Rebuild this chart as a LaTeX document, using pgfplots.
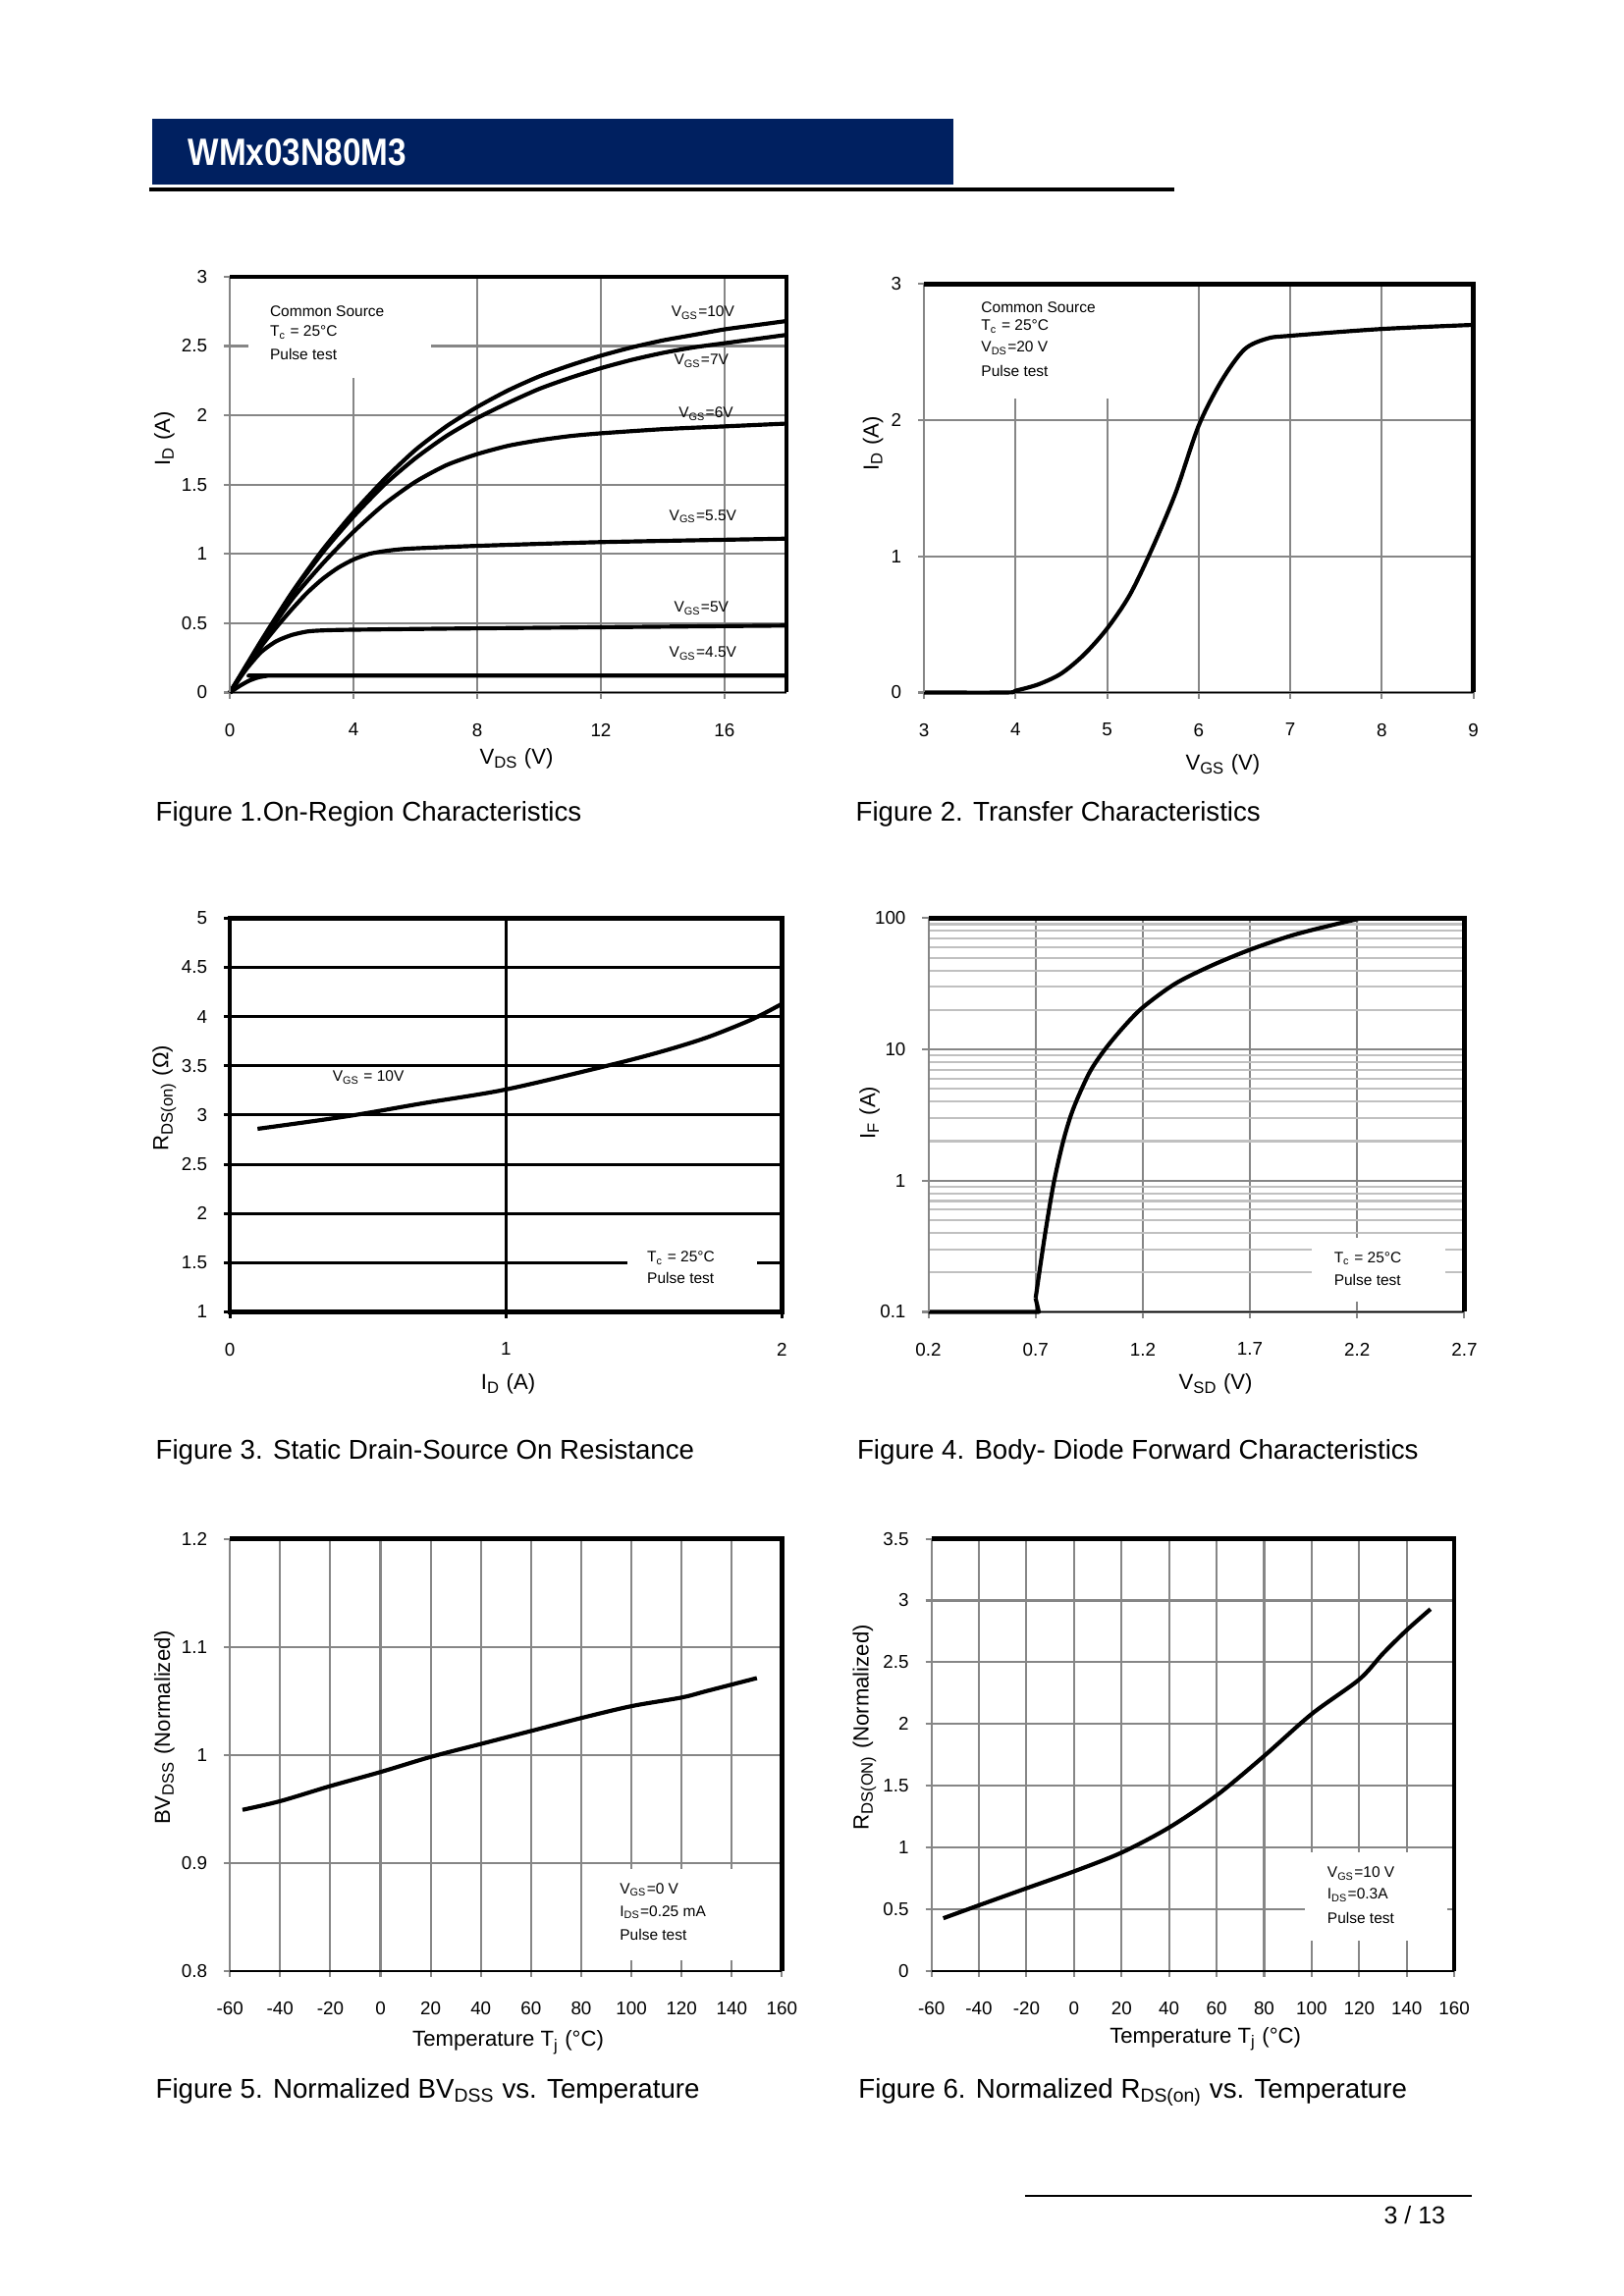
\documentclass[border=0pt]{standalone}
\usepackage{pgfplots}
\pgfplotsset{compat=1.18}
\usepackage{fontspec}
\setmainfont{Liberation Sans}
\newfontfamily\hdrfont[FakeStretch=0.86]{Liberation Sans}
\definecolor{navy}{RGB}{0,32,96}
\definecolor{gridg}{RGB}{134,134,134}
\definecolor{minorg}{RGB}{192,192,192}
\newcommand\fa{\fontsize{5.6}{6.6}\selectfont}
\newcommand\fl{\fontsize{8}{9.6}\selectfont}
\newcommand\fc{\fontsize{10}{12}\selectfont}
\newcommand\ft{\fontsize{6.8}{8}\selectfont}
\newcommand\frameA{%
  \draw[gridg, line width=0.75bp] (rel axis cs:0,0) -- (rel axis cs:0,1);
  \draw[black, line width=0.7bp] (rel axis cs:0,0) -- (rel axis cs:1,0);
  \draw[black, line width=1.7bp, line join=miter] (rel axis cs:0,1) -- (rel axis cs:1,1) -- (rel axis cs:1,0);}
\pgfplotsset{
 ds/.style={scale only axis, anchor=south west, clip=false,
  axis line style={draw=none},
  grid=major, major grid style={gridg, line width=0.75bp},
  tick align=outside, xtick pos=bottom, ytick pos=left,
  major tick length=2.2bp, minor tick length=0pt,
  tick style={gridg, line width=0.75bp},
  ticklabel style={font=\ft},
  xticklabel style={yshift=-5.6bp},
  yticklabel style={xshift=-2.6bp},
  label style={font=\fl},
  /pgf/number format/assume math mode=true,
 },
 crv/.style={black, line width=1.5bp, no markers, line join=round, solid},
}
\begin{document}
\begin{tikzpicture}
\fill[white] (0,0) rectangle (595.44bp,842.04bp);
% header
\fill[navy] (55.8bp,774.2bp) rectangle (349.6bp,798.5bp);
\node[anchor=west, text=white, inner sep=0, font=\hdrfont\fontsize{14}{16}\selectfont\bfseries] at (68.8bp,786.2bp) {WMx03N80M3};
\draw[black, line width=1.2bp] (54.7bp,772.6bp) -- (430.6bp,772.6bp);
% footer
\draw[black, line width=0.6bp] (375.8bp,36.7bp) -- (539.6bp,36.7bp);
\node[font=\fontsize{9}{11}\selectfont, inner sep=0] at (518.7bp,29.7bp) {3 / 13};

% ---------- Figure 1 ----------
\begin{axis}[ds, at={(84.31bp,588.06bp)}, width=204.0bp, height=152.5bp,
  xmin=0, xmax=18, ymin=0, ymax=3,
  xtick={0,4,8,12,16}, ytick={0,0.5,1,1.5,2,2.5,3},
  yticklabels={0,0.5,1,1.5,2,2.5,3},
  xlabel={V\textsubscript{DS} (V)}, ylabel={I\textsubscript{D} (A)},
  xlabel style={at={(axis description cs:0.515,-0.158)}, anchor=center},
  ylabel style={at={(axis description cs:-0.118,0.61)}, anchor=center}]
\fill[white] (axis cs:0.6,2.27) rectangle (axis cs:6.5,2.985);
\addplot[crv, smooth, tension=0.4] coordinates {(0,0)(1,0.37)(2,0.72)(3,1.03)(4,1.30)(5,1.54)(6,1.75)(7,1.92)(8,2.06)(9,2.18)(10,2.28)(11,2.36)(12,2.43)(13,2.49)(14,2.54)(15,2.58)(16,2.62)(17,2.65)(18,2.68)};
\addplot[crv, smooth, tension=0.4] coordinates {(0,0)(1,0.36)(2,0.71)(3,1.01)(4,1.27)(5,1.50)(6,1.69)(7,1.85)(8,1.98)(9,2.09)(10,2.19)(11,2.27)(12,2.34)(13,2.40)(14,2.45)(15,2.49)(16,2.52)(17,2.55)(18,2.58)};
\addplot[crv, smooth, tension=0.4] coordinates {(0,0)(1,0.35)(2,0.67)(3,0.93)(4,1.16)(5,1.36)(6,1.52)(7,1.64)(8,1.72)(9,1.78)(10,1.82)(11,1.85)(12,1.87)(14,1.90)(16,1.92)(18,1.94)};
\addplot[crv, smooth, tension=0.4] coordinates {(0,0)(0.5,0.17)(1,0.33)(1.5,0.47)(2,0.60)(2.5,0.72)(3,0.82)(3.5,0.90)(4,0.96)(4.5,1.00)(5,1.02)(5.5,1.033)(6,1.04)(8,1.058)(12,1.085)(18,1.11)};
\addplot[crv, smooth, tension=0.4] coordinates {(0,0)(0.5,0.16)(1,0.29)(1.5,0.37)(2,0.415)(2.5,0.44)(3,0.448)(4,0.453)(8,0.463)(18,0.483)};
\addplot[crv, smooth, tension=0.4] coordinates {(0,0)(0.3,0.045)(0.6,0.083)(0.9,0.108)(1.2,0.12)(1.5,0.122)(18,0.122)};
\frameA
\node[font=\fa, anchor=west, inner sep=0] at (axis cs:1.28,2.75) {Common Source};
\node[font=\fa, anchor=west, inner sep=0] at (axis cs:1.28,2.60) {T\textsubscript{c} = 25°C};
\node[font=\fa, anchor=west, inner sep=0] at (axis cs:1.28,2.44) {Pulse test};
\node[font=\fa, inner sep=0] at (axis cs:15.3,2.74) {V\textsubscript{GS}=10V};
\node[font=\fa, inner sep=0] at (axis cs:15.25,2.39) {V\textsubscript{GS}=7V};
\node[font=\fa, inner sep=0] at (axis cs:15.4,2.01) {V\textsubscript{GS}=6V};
\node[font=\fa, inner sep=0] at (axis cs:15.3,1.27) {V\textsubscript{GS}=5.5V};
\node[font=\fa, inner sep=0] at (axis cs:15.25,0.61) {V\textsubscript{GS}=5V};
\node[font=\fa, inner sep=0] at (axis cs:15.3,0.28) {V\textsubscript{GS}=4.5V};
\end{axis}
\node[font=\fc, anchor=mid west, inner sep=0] at (56.9bp,543.6bp) {Figure 1.On-Region Characteristics};

% ---------- Figure 2 ----------
\begin{axis}[ds, at={(338.8bp,588.06bp)}, width=201.4bp, height=149.8bp,
  xmin=3, xmax=9, ymin=0, ymax=3,
  xtick={3,4,5,6,7,8,9}, ytick={0,1,2,3},
  xlabel={V\textsubscript{GS} (V)}, ylabel={I\textsubscript{D} (A)},
  xlabel style={at={(axis description cs:0.544,-0.176)}, anchor=center},
  ylabel style={at={(axis description cs:-0.093,0.61)}, anchor=center}]
\fill[white] (axis cs:3.05,2.16) rectangle (axis cs:5.7,2.985);
\addplot[crv, smooth, tension=0.5] coordinates {(3,0)(3.9,0)(4,0.013)(4.25,0.06)(4.5,0.14)(4.75,0.28)(5,0.47)(5.25,0.72)(5.5,1.07)(5.75,1.47)(6,1.96)(6.25,2.29)(6.5,2.52)(6.75,2.60)(7,2.62)(8,2.67)(9,2.70)};
\frameA
\node[font=\fa, anchor=west, inner sep=0] at (axis cs:3.62,2.83) {Common Source};
\node[font=\fa, anchor=west, inner sep=0] at (axis cs:3.62,2.69) {T\textsubscript{c} = 25°C};
\node[font=\fa, anchor=west, inner sep=0] at (axis cs:3.62,2.53) {V\textsubscript{DS}=20 V};
\node[font=\fa, anchor=west, inner sep=0] at (axis cs:3.62,2.36) {Pulse test};
\end{axis}
\node[font=\fc, anchor=mid west, inner sep=0] at (313.6bp,543.6bp) {Figure 2. Transfer Characteristics};

% ---------- Figure 3 ----------
\begin{axis}[ds, at={(84.31bp,360.9bp)}, width=202.4bp, height=144.4bp,
  xmin=0, xmax=2, ymin=1, ymax=5,
  xtick={0,1,2}, ytick={1,1.5,2,2.5,3,3.5,4,4.5,5},
  yticklabels={1,1.5,2,2.5,3,3.5,4,4.5,5},
  major grid style={black, line width=1.1bp}, tick style={black, line width=1.1bp},
  xlabel={I\textsubscript{D} (A)}, ylabel={R\textsubscript{DS(on)} (Ω)},
  xlabel style={at={(axis description cs:0.504,-0.182)}, anchor=center},
  ylabel style={at={(axis description cs:-0.119,0.543)}, anchor=center}]
\fill[white] (axis cs:1.44,1.05) rectangle (axis cs:1.91,1.72);
\addplot[crv, smooth, tension=0.5] coordinates {(0.1,2.86)(0.43,2.99)(0.7,3.12)(1.0,3.26)(1.38,3.51)(1.57,3.65)(1.73,3.79)(1.89,3.97)(2.0,4.13)};
\draw[black, line width=1.6bp, line join=miter] (rel axis cs:0,0) rectangle (rel axis cs:1,1);
\node[font=\fa, anchor=west, inner sep=0] at (axis cs:0.37,3.38) {V\textsubscript{GS} = 10V};
\node[font=\fa, anchor=west, inner sep=0] at (axis cs:1.51,1.55) {T\textsubscript{c} = 25°C};
\node[font=\fa, anchor=west, inner sep=0] at (axis cs:1.51,1.34) {Pulse test};
\end{axis}
\node[font=\fc, anchor=mid west, inner sep=0] at (56.9bp,309.4bp) {Figure 3. Static Drain-Source On Resistance};

% ---------- Figure 4 ----------
\begin{axis}[ds, at={(340.4bp,360.9bp)}, width=196.5bp, height=144.4bp,
  xmin=0.2, xmax=2.7, ymode=log, ymin=0.1, ymax=100,
  xtick={0.2,0.7,1.2,1.7,2.2,2.7}, xticklabels={0.2,0.7,1.2,1.7,2.2,2.7},
  ytick={0.1,1,10,100}, yticklabels={0.1,1,10,100},
  yminorgrids=true, minor grid style={minorg, line width=0.75bp},
  xlabel={V\textsubscript{SD} (V)}, ylabel={I\textsubscript{F} (A)},
  xlabel style={at={(axis description cs:0.536,-0.182)}, anchor=center},
  ylabel style={at={(axis description cs:-0.11,0.506)}, anchor=center}]
\fill[white] (axis cs:1.99,0.12) rectangle (axis cs:2.61,0.37);
\addplot[crv, sharp plot] coordinates {(0.2,0.1)(0.715,0.1)(0.70,0.127)};
\addplot[crv, smooth, tension=0.5] coordinates {(0.700,0.127)(0.742,0.372)(0.784,0.946)(0.83,2.03)(0.876,3.54)(0.95,6.6)(1.022,9.93)(1.11,14.8)(1.2,20.9)(1.35,31.6)(1.516,43.2)(1.7,57.5)(1.898,74.1)(2.094,89.5)(2.22,100)};
\frameA
\node[font=\fa, anchor=west, inner sep=0] at (axis cs:2.09,0.255) {T\textsubscript{c} = 25°C};
\node[font=\fa, anchor=west, inner sep=0] at (axis cs:2.09,0.176) {Pulse test};
\end{axis}
\node[font=\fc, anchor=mid west, inner sep=0] at (314.1bp,309.4bp) {Figure 4. Body- Diode Forward Characteristics};

% ---------- Figure 5 ----------
\begin{axis}[ds, at={(84.31bp,119.3bp)}, width=202.4bp, height=158.4bp,
  xmin=-60, xmax=160, ymin=0.8, ymax=1.2,
  xtick={-60,-40,...,160}, xticklabels={-60,-40,-20,0,20,40,60,80,100,120,140,160},
  ytick={0.8,0.9,1,1.1,1.2}, yticklabels={0.8,0.9,1,1.1,1.2},
  xlabel={Temperature T\textsubscript{j} (°C)}, ylabel={BV\textsubscript{DSS} (Normalized)},
  xlabel style={at={(axis description cs:0.504,-0.166)}, anchor=center},
  ylabel style={at={(axis description cs:-0.119,0.563)}, anchor=center}]
\fill[white] (axis cs:85,0.81) rectangle (axis cs:147,0.894);
\addplot[crv, smooth, tension=0.5] coordinates {(-55,0.949)(-40,0.957)(-20,0.971)(0,0.984)(20,0.998)(40,1.010)(60,1.022)(80,1.034)(100,1.045)(120,1.053)(130,1.059)(150,1.071)};
\frameA
\node[font=\fa, anchor=west, inner sep=0] at (axis cs:95.2,0.875) {V\textsubscript{GS}=0 V};
\node[font=\fa, anchor=west, inner sep=0] at (axis cs:95.2,0.854) {I\textsubscript{DS}=0.25 mA};
\node[font=\fa, anchor=west, inner sep=0] at (axis cs:95.2,0.833) {Pulse test};
\end{axis}
\node[font=\fc, anchor=mid west, inner sep=0] at (56.9bp,75.3bp) {Figure 5. Normalized BV\textsubscript{DSS} vs. Temperature};

% ---------- Figure 6 ----------
\begin{axis}[ds, at={(341.5bp,119.3bp)}, width=191.7bp, height=158.4bp,
  xmin=-60, xmax=160, ymin=0, ymax=3.5,
  xtick={-60,-40,...,160}, xticklabels={-60,-40,-20,0,20,40,60,80,100,120,140,160},
  ytick={0,0.5,1,1.5,2,2.5,3,3.5}, yticklabels={0,0.5,1,1.5,2,2.5,3,3.5},
  xlabel={Temperature T\textsubscript{j} (°C)}, ylabel={R\textsubscript{DS(ON)} (Normalized)},
  xlabel style={at={(axis description cs:0.524,-0.158)}, anchor=center},
  ylabel style={at={(axis description cs:-0.128,0.563)}, anchor=center}]
\fill[white] (axis cs:97,0.24) rectangle (axis cs:157,0.96);
\addplot[crv, smooth, tension=0.5] coordinates {(-55,0.425)(-40,0.53)(-20,0.668)(0,0.805)(20,0.957)(40,1.16)(60,1.42)(80,1.74)(100,2.08)(120,2.36)(130,2.57)(140,2.76)(150,2.93)};
\frameA
\node[font=\fa, anchor=west, inner sep=0] at (axis cs:106.4,0.79) {V\textsubscript{GS}=10 V};
\node[font=\fa, anchor=west, inner sep=0] at (axis cs:106.4,0.61) {I\textsubscript{DS}=0.3A};
\node[font=\fa, anchor=west, inner sep=0] at (axis cs:106.4,0.425) {Pulse test};
\end{axis}
\node[font=\fc, anchor=mid west, inner sep=0] at (314.6bp,75.3bp) {Figure 6. Normalized R\textsubscript{DS(on)} vs. Temperature};
\end{tikzpicture}
\end{document}
